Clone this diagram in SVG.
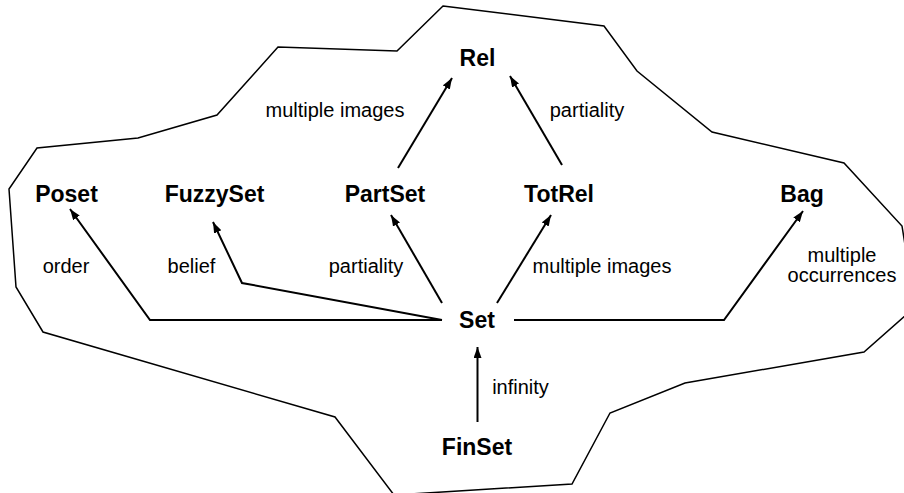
<svg xmlns="http://www.w3.org/2000/svg" width="904" height="493" viewBox="0 0 904 493">
<style>
.node{font-family:"Liberation Sans",Arial,sans-serif;font-weight:bold;font-size:23px;fill:#000;text-anchor:middle}
.lbl{font-family:"Liberation Sans",Arial,sans-serif;font-size:20px;fill:#000;text-anchor:middle}
.edge{fill:none;stroke:#000;stroke-width:2;marker-end:url(#ah)}
.outline{fill:none;stroke:#000;stroke-width:1.5;stroke-linejoin:miter}
</style>
<defs>
<marker id="ah" markerUnits="userSpaceOnUse" markerWidth="12" markerHeight="10" refX="11" refY="4" orient="auto">
<path d="M0,0 L11,4 L0,8 Z" fill="#000"/>
</marker>
</defs>
<rect width="904" height="493" fill="#fff"/>
<polygon id="outline" class="outline" points="443,6 604,26 637,71 712,132 844,163 902,226 915,307 864,352 685,383 610,413 572,484 394,495 335,417 43,332 16,287 9,189 37,148 138,138 217,115 278,47 397,51"/>
<g id="connectors">
<polyline class="edge" points="398,168 452,78"/>
<polyline class="edge" points="562,165 510,76"/>
<polyline class="edge" points="442,320 150,320 70,209"/>
<polyline class="edge" points="442,320 242,283 213,222"/>
<polyline class="edge" points="442,303 391,215"/>
<polyline class="edge" points="497,303 551,215"/>
<polyline class="edge" points="514,320 724,320 803,211"/>
<polyline class="edge" points="477.5,422 477.5,347"/>
</g>
<g id="labels">
<text class="lbl" x="335" y="117">multiple images</text>
<text class="lbl" x="587" y="117">partiality</text>
<text class="lbl" x="66" y="273">order</text>
<text class="lbl" x="191.5" y="273">belief</text>
<text class="lbl" x="366" y="273">partiality</text>
<text class="lbl" x="602" y="273">multiple images</text>
<text class="lbl" x="842" y="262">multiple</text>
<text class="lbl" x="842" y="282">occurrences</text>
<text class="lbl" x="520.5" y="394">infinity</text>
</g>
<g id="Rel"><text class="node" x="477.5" y="66">Rel</text></g>
<g id="Poset"><text class="node" x="66.5" y="202">Poset</text></g>
<g id="FuzzySet"><text class="node" x="214.5" y="202">FuzzySet</text></g>
<g id="PartSet"><text class="node" x="385" y="202">PartSet</text></g>
<g id="TotRel"><text class="node" x="559" y="202">TotRel</text></g>
<g id="Bag"><text class="node" x="802" y="202">Bag</text></g>
<g id="Set"><text class="node" x="477" y="328">Set</text></g>
<g id="FinSet"><text class="node" x="477" y="455">FinSet</text></g>
</svg>
